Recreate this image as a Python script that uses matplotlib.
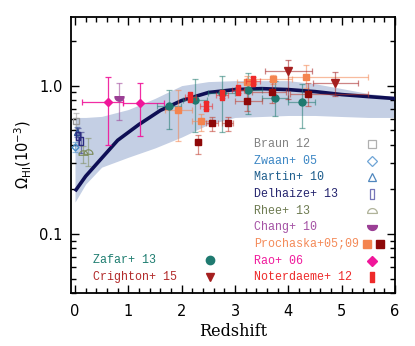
import numpy as np
import matplotlib
matplotlib.use("Agg")
import matplotlib.pyplot as plt
from matplotlib.path import Path
from matplotlib.ticker import FixedLocator, MultipleLocator, LogLocator, NullFormatter, FixedFormatter

# ---------------- data ----------------
band_z = [0.0, 0.2, 0.5, 1.0, 1.5, 2.0, 2.5, 3.0, 3.5, 4.0, 4.5, 5.0, 5.5, 6.0]
band_hi = [0.61, 0.61, 0.62, 0.69, 0.82, 1.0, 1.064, 1.08, 1.08, 1.08, 1.03, 0.955, 0.884, 0.843]
band_lo = [0.164, 0.217, 0.282, 0.329, 0.38, 0.45, 0.547, 0.61, 0.619, 0.629, 0.629, 0.619, 0.61, 0.61]

model_z = [0.0, 0.2, 0.5, 0.8, 1.2, 1.6, 2.0, 2.5, 3.0, 3.5, 4.0, 4.5, 5.0, 5.5, 6.0]
model_om = [0.194, 0.245, 0.324, 0.428, 0.547, 0.68, 0.793, 0.898, 0.94, 0.954, 0.94, 0.911, 0.87, 0.843, 0.818]

braun_z = [0.02]; braun_om = [0.576]; braun_lo = [0.07]; braun_hi = [0.08]
zwaan_z = [0.0]; zwaan_om = [0.385]; zwaan_lo = [0.03]; zwaan_hi = [0.03]
martin_z = [0.03]; martin_om = [0.49]; martin_lo = [0.04]; martin_hi = [0.04]
delhaize_z = [0.06, 0.11]; delhaize_om = [0.46, 0.42]; delhaize_lo = [0.06, 0.07]; delhaize_hi = [0.06, 0.07]
rhee_z = [0.15, 0.24]; rhee_om = [0.35, 0.355]; rhee_lo = [0.05, 0.07]; rhee_hi = [0.04, 0.09]
chang_z = [0.82]; chang_om = [0.82]; chang_lo = [0.23]; chang_hi = [0.22]

rao_z = [0.62, 1.22]; rao_om = [0.78, 0.76]
rao_lo = [0.38, 0.30]; rao_hi = [0.37, 0.28]
rao_zlo = [0.49, 0.32]; rao_zhi = [0.28, 0.44]

zafar_z = [1.76, 2.25, 2.75, 3.25, 3.75, 4.25]
zafar_om = [0.73, 0.80, 0.89, 0.94, 0.83, 0.78]
zafar_lo = [0.22, 0.31, 0.40, 0.30, 0.21, 0.26]
zafar_hi = [0.21, 0.30, 0.27, 0.28, 0.25, 0.25]
zafar_zerr = [0.22, 0.22, 0.25, 0.25, 0.25, 0.25]

proch_z = [1.94, 2.36, 3.22, 3.72, 4.34]
proch_om = [0.68, 0.573, 1.06, 1.10, 1.14]
proch_lo = [0.26, 0.08, 0.11, 0.07, 0.18]
proch_hi = [0.25, 0.07, 0.10, 0.07, 0.24]
proch_zlo = [0.25, 0.17, 0.19, 0.38, 0.34]
proch_zhi = [0.25, 0.18, 0.18, 0.34, 1.16]

prochd_z = [2.31, 2.57, 2.86, 3.22, 3.69, 4.37]
prochd_om = [0.417, 0.556, 0.556, 0.785, 0.907, 0.88]
prochd_lo = [0.07, 0.06, 0.06, 0.11, 0.14, 0.15]
prochd_hi = [0.05, 0.06, 0.06, 0.11, 0.17, 0.16]
prochd_zlo = [0.06, 0.11, 0.11, 0.22, 0.38, 0.34]
prochd_zhi = [0.06, 0.11, 0.11, 0.28, 0.26, 1.13]

noter_z = [2.16, 2.45, 2.75, 3.06, 3.34]
noter_om = [0.835, 0.734, 0.87, 0.94, 1.08]
noter_err = [0.035, 0.04, 0.045, 0.045, 0.06]
noter_zerr = [0.1, 0.11, 0.11, 0.11, 0.13]

crig_z = [4.0, 4.88]; crig_om = [1.25, 1.04]
crig_lo = [0.44, 0.19]; crig_hi = [0.24, 0.19]
crig_zlo = [0.44, 0.41]; crig_zhi = [0.44, 0.43]

x_ticks = [0, 1, 2, 3, 4, 5, 6]
y_ticks = [0.1, 1.0]
y_ticklabels = ["0.1", "1.0"]

# ---------------- markers ----------------
t = np.linspace(0, np.pi, 20)
dome = Path(np.column_stack([np.cos(t), np.sin(t) - 0.4]).tolist() + [[1, -0.4]], closed=True)
bowl = Path(np.column_stack([np.cos(t), -np.sin(t) + 0.4]).tolist() + [[1, 0.4]], closed=True)
rect = Path([(-0.45, -1), (0.45, -1), (0.45, 1), (-0.45, 1), (-0.45, -1)], closed=True)

fig = plt.figure(figsize=(4.15, 3.46), dpi=100)
ax = fig.add_axes([71 / 415, (346 - 293) / 346, 324 / 415, 276 / 346])
ax.set_yscale("log")

ax.fill_between(band_z, band_lo, band_hi, color="#c4cfe4", lw=0, zorder=1)
ax.plot(model_z, model_om, color="#0f0f55", lw=2.6, zorder=4, solid_capstyle="butt")


def eb(z, om, lo, hi, zlo=None, zhi=None, color="k", ecolor=None, marker="o", ms=5,
       mfc=None, mew=1.0, alpha=0.55, z_order=5):
    xerr = None
    if zlo is not None:
        xerr = [zlo, zhi]
    ax.errorbar(z, om, yerr=[lo, hi], xerr=xerr, fmt="none",
                ecolor=ecolor or color, elinewidth=0.9, capsize=2.0, capthick=0.9,
                alpha=alpha, zorder=z_order)
    ax.plot(z, om, ls="none", marker=marker, ms=ms, mfc=mfc if mfc is not None else color,
            mec=color, mew=mew, zorder=z_order + 0.5)


eb(braun_z, braun_om, braun_lo, braun_hi, color="#9a9a9a", marker="s", ms=4.5, mfc="none")
eb(martin_z, martin_om, martin_lo, martin_hi, color="#2a4f8f", marker="^", ms=4, mfc="none")
eb(delhaize_z, delhaize_om, delhaize_lo, delhaize_hi, color="#2b2b80", marker=rect, ms=5.5, mfc="none")
eb(zwaan_z, zwaan_om, zwaan_lo, zwaan_hi, color="#4a8ec8", marker="D", ms=3.5, mfc="none")
eb(rhee_z, rhee_om, rhee_lo, rhee_hi, color="#7d8c5c", marker=dome, ms=6.5, mfc="none", mew=0.8)
eb(chang_z, chang_om, chang_lo, chang_hi, color="#9b3f95", marker=bowl, ms=6.5)
eb(rao_z, rao_om, rao_lo, rao_hi, rao_zlo, rao_zhi, color="#f0169a", marker="D", ms=4, alpha=0.9)
eb(zafar_z, zafar_om, zafar_lo, zafar_hi, zafar_zerr, zafar_zerr, color="#1f7a70", marker="o", ms=5)
eb(proch_z, proch_om, proch_lo, proch_hi, proch_zlo, proch_zhi, color="#f4844f", marker="s", ms=5)
eb(prochd_z, prochd_om, prochd_lo, prochd_hi, prochd_zlo, prochd_zhi, color="#8e0808",
   ecolor="#c0392b", marker="s", ms=5)
eb(noter_z, noter_om, noter_err, noter_err, noter_zerr, noter_zerr, color="#ee2a2a",
   marker=rect, ms=6.5, z_order=7)
eb(crig_z, crig_om, crig_lo, crig_hi, crig_zlo, crig_zhi, color="#a51f1f", marker="v", ms=5.5)

# ---------------- axes ----------------
ax.set_xlim(-0.075, 6.0)
ax.set_ylim(0.04, 2.9)
ax.xaxis.set_major_locator(FixedLocator(x_ticks))
ax.xaxis.set_minor_locator(MultipleLocator(0.2))
ax.yaxis.set_major_locator(FixedLocator(y_ticks))
ax.yaxis.set_major_formatter(FixedFormatter(y_ticklabels))
ax.yaxis.set_minor_locator(LogLocator(base=10, subs=np.arange(2, 10)))
ax.yaxis.set_minor_formatter(NullFormatter())
ax.tick_params(which="both", direction="in", top=True, right=True, width=1.0, colors="black")
ax.tick_params(which="major", length=6)
ax.tick_params(which="minor", length=3.5)
ax.tick_params(axis="x", which="major", pad=8, labelsize=10.5)
ax.tick_params(axis="y", which="major", pad=6, labelsize=10.5)
for s in ax.spines.values():
    s.set_linewidth(1.3)

ax.set_xlabel("Redshift", family="DejaVu Serif", fontsize=11.5, labelpad=3)
ax.set_ylabel(r"$\Omega_{\rm HI}(10^{-3})$", fontsize=10.5, labelpad=4)

# ---------------- text legend ----------------
names = ["Braun 12", "Zwaan+ 05", "Martin+ 10", "Delhaize+ 13", "Rhee+ 13", "Chang+ 10",
         "Prochaska+05;09", "Rao+ 06", "Noterdaeme+ 12"]
ncolors = ["#808080", "#3b86c4", "#1d5d8c", "#24246e", "#6d7a50", "#a452a4",
           "#f48a58", "#f01a9c", "#ee2a2a"]
lstyle = [dict(marker="s", mfc="none", mec="#b0b0b0", ms=6, mew=0.9),
          dict(marker="D", mfc="none", mec="#6ea4d6", ms=5, mew=0.9),
          dict(marker="^", mfc="none", mec="#4f86bd", ms=6, mew=0.9),
          dict(marker=rect, mfc="none", mec="#7676b8", ms=7, mew=0.9),
          dict(marker=dome, mfc="none", mec="#b0b39a", ms=7, mew=0.9),
          dict(marker=bowl, mfc="#9b3f95", mec="#9b3f95", ms=7),
          None,
          dict(marker="D", mfc="#f0169a", mec="#f0169a", ms=5),
          dict(marker=rect, mfc="#ee2a2a", mec="#ee2a2a", ms=7)]
y0 = (293 - 144) / 276
dy = 16.67 / 276
for i, (nm, c, st) in enumerate(zip(names, ncolors, lstyle)):
    yy = y0 - i * dy
    ax.text(0.566, yy, nm, transform=ax.transAxes, color=c, family="Liberation Mono",
            fontsize=8.4, va="center", ha="left")
    if st is None:
        ax.plot([0.914], [yy], transform=ax.transAxes, ls="none", marker="s", ms=6,
                mfc="#f4844f", mec="#f4844f", clip_on=False)
        ax.plot([0.955], [yy], transform=ax.transAxes, ls="none", marker="s", ms=6,
                mfc="#8e0808", mec="#8e0808", clip_on=False)
    else:
        ax.plot([0.928], [yy], transform=ax.transAxes, ls="none", clip_on=False, **st)

names2 = ["Zafar+ 13", "Crighton+ 15"]
colors2 = ["#1e7d70", "#b22a2a"]
lstyle2 = [dict(marker="o", mfc="#1f7a70", mec="#1f7a70", ms=6),
           dict(marker="v", mfc="#a51f1f", mec="#a51f1f", ms=6)]
for i, (nm, c, st) in enumerate(zip(names2, colors2, lstyle2)):
    yy = (293 - 260) / 276 - i * dy
    ax.text(0.067, yy, nm, transform=ax.transAxes, color=c, family="Liberation Mono",
            fontsize=8.4, va="center", ha="left")
    ax.plot([0.429], [yy], transform=ax.transAxes, ls="none", clip_on=False, **st)

fig.savefig("out.png", dpi=100)
